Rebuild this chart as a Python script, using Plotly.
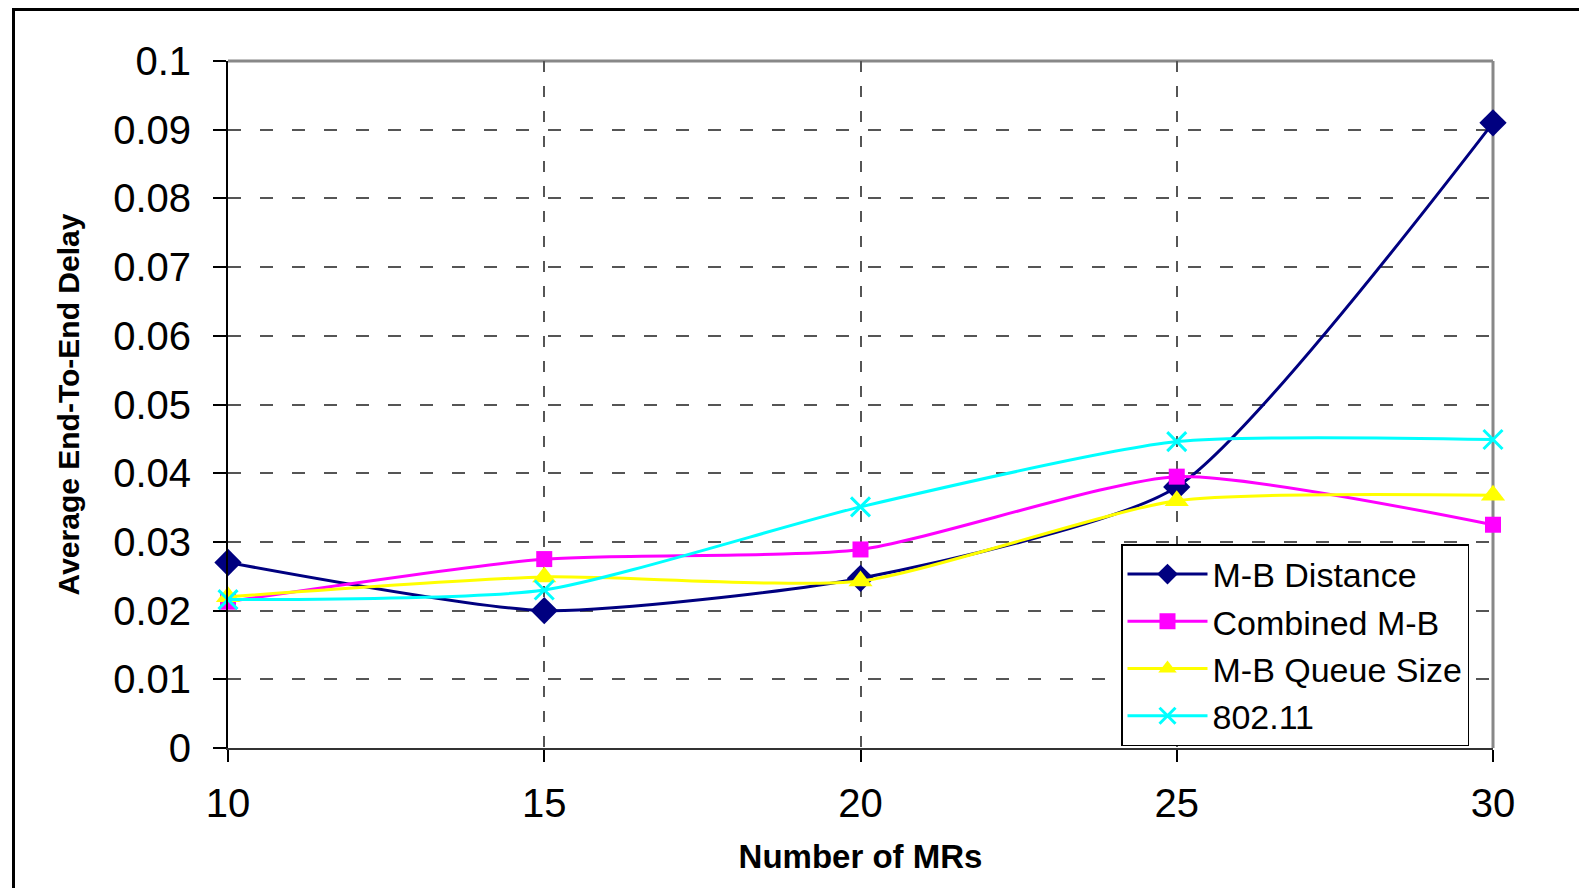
import plotly.graph_objects as go

x_mrs = [10, 15, 20, 25, 30]
mb_distance = [0.0270, 0.0200, 0.0247, 0.0380, 0.0910]
combined_mb = [0.0213, 0.0275, 0.0289, 0.0395, 0.0325]
mb_queue = [0.0220, 0.0249, 0.0243, 0.0360, 0.0368]
ieee80211 = [0.0216, 0.0230, 0.0351, 0.0446, 0.0449]

y_ticks = [0, 0.01, 0.02, 0.03, 0.04, 0.05, 0.06, 0.07, 0.08, 0.09, 0.1]
y_tick_text = ["0", "0.01", "0.02", "0.03", "0.04", "0.05", "0.06", "0.07", "0.08", "0.09", "0.1"]
x_ticks = [10, 15, 20, 25, 30]

FONT = "Liberation Sans, Arial, sans-serif"

series = [
    ("M-B Distance", mb_distance, "#000080", dict(symbol="diamond", size=21, color="#000080")),
    ("Combined M-B", combined_mb, "#FF00FF", dict(symbol="square", size=16, color="#FF00FF")),
    ("M-B Queue Size", mb_queue, "#FFFF00", dict(symbol="triangle-up", size=21, color="#FFFF00")),
    ("802.11", ieee80211, "#00FFFF", dict(symbol="x-thin", size=19, color="#00FFFF",
                                          line=dict(color="#00FFFF", width=3))),
]

fig = go.Figure()
for name, ys, col, mk in series:
    fig.add_trace(go.Scatter(
        x=x_mrs, y=ys, name=name, mode="lines+markers",
        line=dict(color=col, width=3, shape="spline", smoothing=0.6),
        marker=mk, cliponaxis=False,
    ))

# page body has an 8px margin, so figure pixel = screen pixel - 8
OFF = 8
W, H = 1587 - 2 * OFF, 896 - 2 * OFF
L, T = 228 - OFF, 61 - OFF
pw, ph = 1265, 687
R = W - L - pw
B = H - T - ph

def px_x(p):
    return (p - OFF - L) / pw

def px_y(p):
    return (T + ph - (p - OFF)) / ph

fig.update_layout(
    width=W, height=H,
    margin=dict(l=L, r=R, t=T, b=B),
    paper_bgcolor="white", plot_bgcolor="white",
    font=dict(family=FONT, color="black"),
    showlegend=True,
    legend=dict(
        x=px_x(1121), y=px_y(544), xanchor="left", yanchor="top",
        bgcolor="white", bordercolor="black", borderwidth=1.5,
        font=dict(family=FONT, size=34, color="black"),
        itemwidth=80,
        tracegroupgap=0,
    ),
    xaxis=dict(
        range=[10, 30], tickvals=x_ticks, ticktext=[str(v) for v in x_ticks],
        showgrid=True, gridcolor="#555555", gridwidth=1.5, griddash="11px,14px",
        showline=True, linecolor="#333333", linewidth=2,
        ticks="outside", ticklen=12, tickwidth=1.5, tickcolor="black",
        tickfont=dict(family=FONT, size=40, color="black"),
        ticklabelstandoff=7,
        zeroline=False,
        title=dict(text="<b>Number of MRs</b>", font=dict(family=FONT, size=33, color="black"), standoff=21),
        automargin=False,
    ),
    yaxis=dict(
        range=[0, 0.1], tickvals=y_ticks, ticktext=y_tick_text,
        showgrid=True, gridcolor="#555555", gridwidth=1.5, griddash="13px,19px",
        showline=True, linecolor="black", linewidth=2,
        ticks="outside", ticklen=13, tickwidth=1.5, tickcolor="black",
        tickfont=dict(family=FONT, size=40, color="black"),
        ticklabelstandoff=14,
        zeroline=False,
        title=dict(text="<b>Average End-To-End Delay</b>", font=dict(family=FONT, size=30, color="black"), standoff=25),
        automargin=False,
    ),
    shapes=[
        dict(type="line", xref="paper", yref="paper", x0=0, x1=1, y0=1, y1=1,
             line=dict(color="#888888", width=3), layer="between"),
        dict(type="line", xref="paper", yref="paper", x0=1, x1=1, y0=0, y1=1,
             line=dict(color="#888888", width=3), layer="between"),
        dict(type="rect", xref="paper", yref="paper",
             x0=px_x(13.5), x1=px_x(1640), y0=px_y(960), y1=px_y(9.5),
             line=dict(color="black", width=3), fillcolor="rgba(0,0,0,0)", layer="above"),
    ],
)

fig.write_html("out.html")
